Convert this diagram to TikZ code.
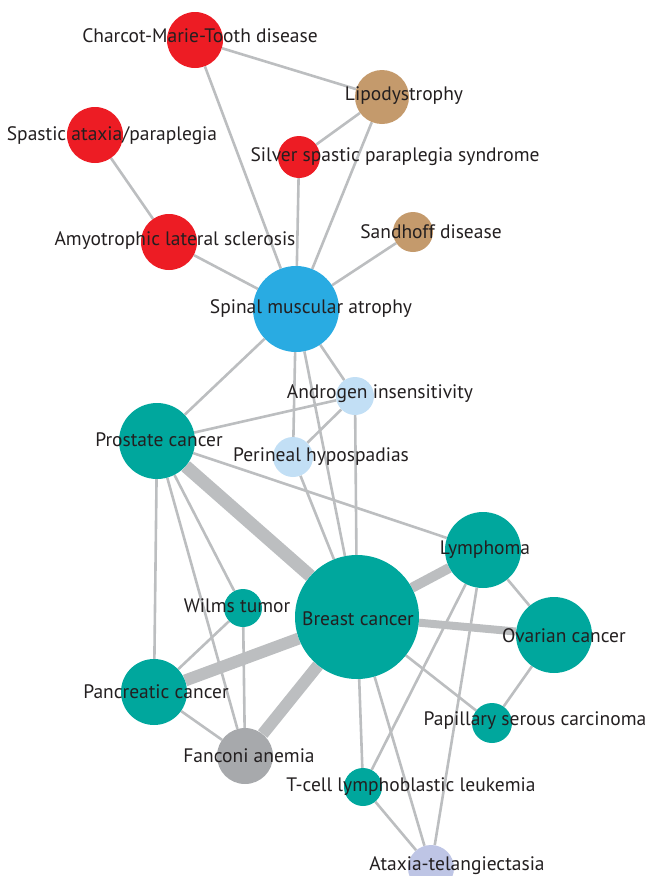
\documentclass[tikz,border=0pt]{standalone}
\usepackage{fontspec}
\setmainfont{PT Sans}
\usetikzlibrary{backgrounds}
\definecolor{dred}{HTML}{ED1C24}
\definecolor{dbrown}{HTML}{C49A6C}
\definecolor{dblue}{HTML}{29ABE2}
\definecolor{dlight}{HTML}{C2DFF5}
\definecolor{dteal}{HTML}{00A79D}
\definecolor{dgray}{HTML}{A7A9AC}
\definecolor{dlav}{HTML}{BEC5E5}
\definecolor{edgegray}{HTML}{BCBEC0}
\definecolor{ink}{HTML}{231F20}
\begin{document}
\begin{tikzpicture}[x=1pt,y=-1pt]
        \tikzset{
            disease/.style={circle,inner sep=0pt},
            lbl/.style={font=\fontsize{19.5}{22}\selectfont,text=ink,inner sep=0pt},
            edge/.style={draw=edgegray,line width=2.6pt}
        }
        \useasboundingbox (0,0) rectangle (645,876);

        \node[disease,fill=dred,minimum size=56] (cmt) at (195,40) {};
        \node[disease,fill=dbrown,minimum size=54] (lipo) at (382,97) {};
        \node[disease,fill=dred,minimum size=56] (spa) at (95,135) {};
        \node[disease,fill=dred,minimum size=42] (silver) at (299,157) {};
        \node[disease,fill=dred,minimum size=56] (als) at (169,242) {};
        \node[disease,fill=dbrown,minimum size=40] (sand) at (413,232) {};
        \node[disease,fill=dblue,minimum size=86] (sma) at (296,309) {};
        \node[disease,fill=dlight,minimum size=38] (andro) at (355,396) {};
        \node[disease,fill=dteal,minimum size=76] (pro) at (157,441) {};
        \node[disease,fill=dlight,minimum size=40] (peri) at (293,457) {};
        \node[disease,fill=dteal,minimum size=76] (lym) at (483,550) {};
        \node[disease,fill=dteal,minimum size=124] (brc) at (357,617) {};
        \node[disease,fill=dteal,minimum size=38] (wilms) at (243,608) {};
        \node[disease,fill=dteal,minimum size=76] (ova) at (554,635) {};
        \node[disease,fill=dteal,minimum size=66] (pan) at (154,692) {};
        \node[disease,fill=dteal,minimum size=40] (pap) at (492,723) {};
        \node[disease,fill=dgray,minimum size=56] (fan) at (245,756) {};
        \node[disease,fill=dteal,minimum size=38] (tcell) at (363,787) {};
        \node[disease,fill=dlav,minimum size=46] (atel) at (431,868) {};

        \begin{pgfonlayer}{background}
            \foreach \a/\b in {cmt/lipo,cmt/sma,lipo/silver,lipo/sma,silver/sma,spa/als,als/sma,sand/sma,
                sma/pro,sma/andro,sma/peri,sma/brc,andro/pro,andro/peri,andro/brc,peri/brc,
                pro/lym,pro/wilms,pro/pan,pro/fan,wilms/pan,wilms/fan,pan/fan,
                lym/ova,lym/tcell,lym/atel,brc/pap,ova/pap,brc/tcell,brc/atel,tcell/atel}{
                    \draw[edge] (\a) -- (\b);
                }
            \foreach \a/\b/\w in {pro/brc/13,brc/pan/12,brc/fan/12,brc/lym/10,brc/ova/8}{
                    \draw[edge,line width=\w pt] (\a) -- (\b);
                }
        \end{pgfonlayer}

        \node[lbl] (cmt-l) at (200,36) {Charcot-Marie-Tooth disease};
        \node[lbl] (lipo-l) at (404,96) {Lipodystrophy};
        \node[lbl] (spa-l) at (112,136) {Spastic ataxia/paraplegia};
        \node[lbl] (silver-l) at (395,157) {Silver spastic paraplegia syndrome};
        \node[lbl] (als-l) at (175,241) {Amyotrophic lateral sclerosis};
        \node[lbl] (sand-l) at (431,232) {Sandhoff disease};
        \node[lbl] (sma-l) at (311,309) {Spinal muscular atrophy};
        \node[lbl] (andro-l) at (380,394) {Androgen insensitivity};
        \node[lbl] (pro-l) at (159,440) {Prostate cancer};
        \node[lbl] (peri-l) at (321,457) {Perineal hypospadias};
        \node[lbl] (lym-l) at (485,550) {Lymphoma};
        \node[lbl] (brc-l) at (358,619) {Breast cancer};
        \node[lbl] (wilms-l) at (237,606) {Wilms tumor};
        \node[lbl] (ova-l) at (564,636) {Ovarian cancer};
        \node[lbl] (pan-l) at (156,692) {Pancreatic cancer};
        \node[lbl] (pap-l) at (535,721) {Papillary serous carcinoma};
        \node[lbl] (fan-l) at (249,756) {Fanconi anemia};
        \node[lbl] (tcell-l) at (411,787) {T-cell lymphoblastic leukemia};
        \node[lbl] (atel-l) at (457,866) {Ataxia-telangiectasia};

    \end{tikzpicture}
\end{document}
